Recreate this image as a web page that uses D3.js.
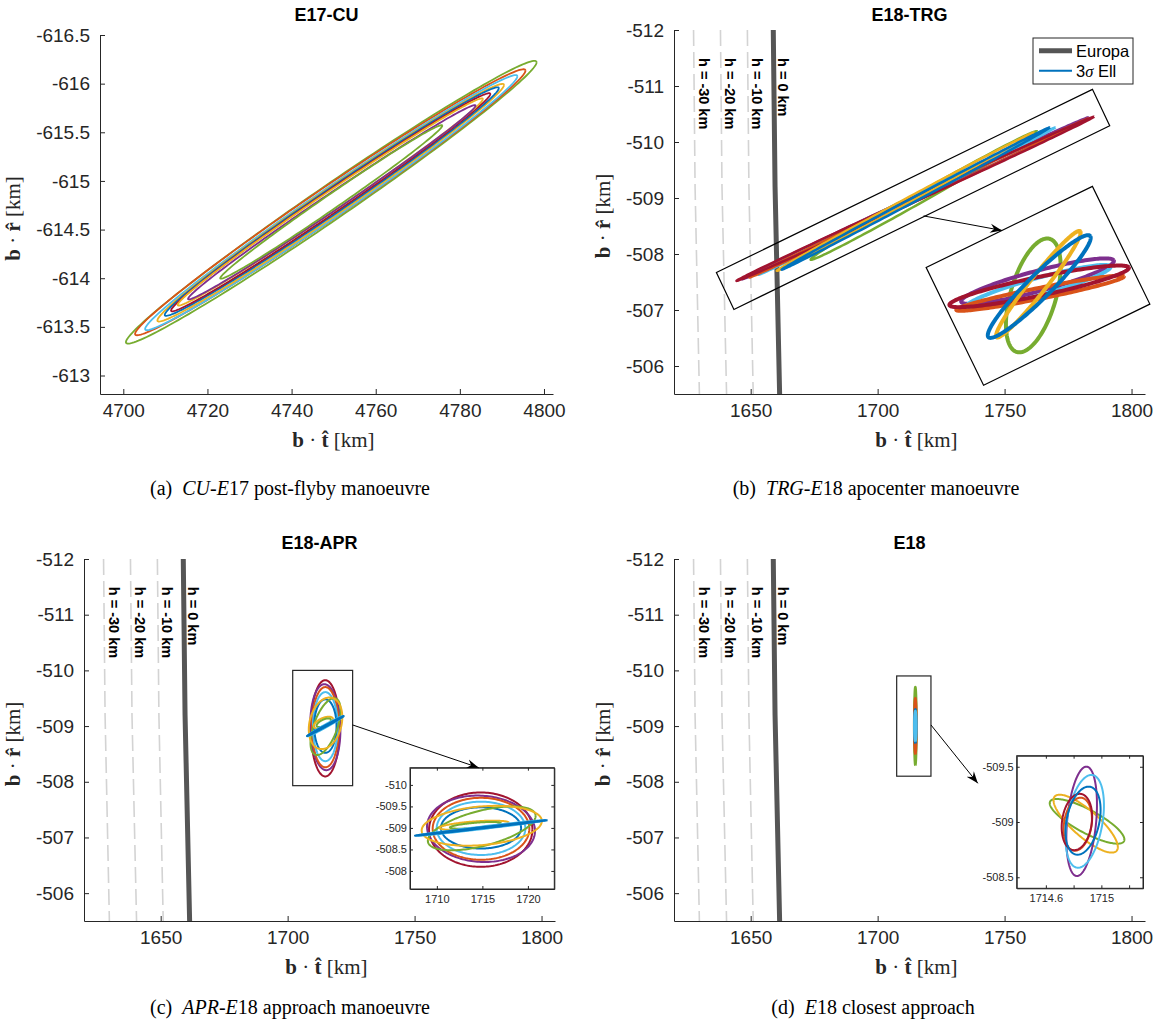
<!DOCTYPE html>
<html>
<head>
<meta charset="utf-8">
<script src="https://cdn.jsdelivr.net/npm/d3@7"></script>
<style>
  body { margin: 0; background: #fff; }
  svg { display: block; }
</style>
</head>
<body>
<script>
var W = 1158, H = 1027;
var SANS = "'Liberation Sans', Arial, Helvetica, sans-serif",
    SERIF = "'Liberation Serif', 'Times New Roman', serif",
    AX = "#262626";

var colors = {
  blue: "#0072BD", orange: "#D95319", yellow: "#EDB120", purple: "#7E2F8E",
  green: "#77AC30", lightblue: "#4DBEEE", darkred: "#A2142F"
};

// every ellipse row: centre t, centre r, half axis 1 (dt, dr), half axis 2 (dt, dr)  [km]

// ---- E17-CU
var cuTTicks = [4700, 4720, 4740, 4760, 4780, 4800];
var cuRTicks = [-616.5, -616, -615.5, -615, -614.5, -614, -613.5, -613];
var cuEll = [
  [4749.43, -614.781, 48.81, -1.438, 0, 0.21],
  [4749.20, -614.781, 46.40, -1.353, 0, 0.195],
  [4749.43, -614.777, 44.24, -1.298, 0, 0.18],
  [4749.30, -614.776, 41.20, -1.210, 0, 0.165],
  [4749.56, -614.788, 39.71, -1.165, 0, 0.15],
  [4749.30, -614.781, 37.95, -1.113, 0, 0.135],
  [4749.21, -614.784, 36.28, -1.058, 0, 0.12],
  [4749.56, -614.781, 34.17, -0.993, 0, 0.105],
  [4749.43, -614.784, 26.39, -0.784, 0, 0.09]
];
var cuCol = ["green", "orange", "lightblue", "yellow", "blue", "darkred", "yellow", "purple", "green"];

// ---- E18 b-plane (shared by TRG, APR, CA)
var e18TTicks = [1650, 1700, 1750, 1800];
var e18RTicks = [-512, -511, -510, -509, -508, -507, -506];
var hLevels = [-30, -20, -10, 0];
var hCurveR = [-512, -509.2, -505.5];
var hCurveT = [
  [1627.5, 1628.1, 1629.8],
  [1638.1, 1638.7, 1640.5],
  [1648.7, 1649.3, 1651.0],
  [1658.9, 1659.6, 1661.4]
];
var hLabelT = [1629.6, 1639.9, 1650.5, 1660.9];
var hLabelR = -511.5;

// ---- E18-TRG
var trgEll = [
  [1718.20, -509.045, 44.60, -1.145, 0, 0.10],
  [1714.80, -508.995, 68.20, -1.445, 0, 0.05],
  [1711.55, -508.945, 58.45, -1.315, 0, 0.04],
  [1716.25, -509.000, 66.75, -1.420, 0, 0.035],
  [1714.80, -508.985, 70.40, -1.465, 0, 0.05],
  [1710.95, -508.935, 50.65, -1.235, 0, 0.05],
  [1715.00, -508.990, 52.80, -1.270, 0, 0.045]
];
var trgCol = ["green", "purple", "lightblue", "orange", "darkred", "yellow", "blue"];
var trgBox = [[1636.5, -507.67], [1784.6, -510.94], [1791.4, -510.29], [1643.4, -507.01]];
var trgArrowFrom = [1718.1, -508.68];
// magnified view, along-band u / cross-band v (scaled units)
var trgZoomEll = [
  [-0.21, -0.165, 1.07, 0.855, 0, 0.78],
  [0.04, 0.11, 1.93, -0.37, 0, 0.26],
  [0.00, -0.025, 1.83, -0.335, 0, 0.22],
  [-0.035, -0.19, 2.055, -0.54, 0, 0.14],
  [0.02, -0.025, 2.21, -0.558, 0, 0.24],
  [0.025, 0.033, 1.515, 0.723, 0, 0.23],
  [0.02, -0.03, 1.69, 0.567, 0, 0.31]
];
var trgZoomCol = ["green", "purple", "lightblue", "orange", "darkred", "yellow", "blue"];

// ---- E18-APR
var aprEll = [
  [1714.82, -508.96, 5.68, 0, 0, 0.864],
  [1714.85, -508.98, 5.93, 0.05, 0, 0.77],
  [1714.85, -508.98, 5.31, 0, 0, 0.72],
  [1714.85, -508.99, 4.87, 0, 0, 0.62],
  [1714.85, -509.00, 4.40, 0, 0, 0.48],
  [1714.93, -508.99, 5.92, -0.29, 0, 0.42],
  [1714.93, -509.05, 6.60, -0.11, 0, 0.45],
  [1714.10, -509.06, 3.80, -0.06, 0, 0.09],
  [1714.23, -509.06, 2.80, -0.05, 0, 0.06],
  [1714.87, -509.00, 7.10, -0.18, 0, 0.03],
  [1714.87, -509.00, 7.27, -0.18, 0, 0.015]
];
var aprCol = ["darkred", "purple", "orange", "lightblue", "blue", "green", "yellow", "yellow", "green", "lightblue", "blue"];
var aprBox = [1702, 1725.6, -510, -507.93];
var aprInsetTTicks = [1710, 1715, 1720];
var aprInsetRTicks = [-510, -509.5, -509, -508.5, -508];

// ---- E18 closest approach
var caEll = [
  [1714.85, -509.0, 0, 0.70, 0.45, 0],
  [1714.85, -509.0, 0, 0.50, 0.45, 0],
  [1714.85, -509.0, 0, 0.30, 0.35, 0],
  [1714.85, -509.0, 0, 0.27, 0.40, 0]
];
var caCol = ["green", "orange", "blue", "lightblue"];
var caZoomEll = [
  [1714.897, -509.006, -0.266, -0.180, 0.040, -0.092],
  [1714.887, -508.985, -0.223, -0.246, 0.063, -0.090],
  [1714.858, -509.006, -0.034, 0.495, 0.105, 0],
  [1714.880, -509.006, -0.048, 0.420, 0.130, 0],
  [1714.830, -508.980, -0.020, 0.240, 0.100, 0],
  [1714.824, -509.000, -0.020, 0.255, 0.108, 0],
  [1714.868, -509.012, -0.040, 0.308, 0.120, 0]
];
var caZoomCol = ["green", "yellow", "purple", "lightblue", "orange", "darkred", "blue"];
var caBox = [1707.5, 1721, -509.9, -508.1];
var caInsetTTicks = [1714.6, 1714.8, 1715, 1715.2];
var caInsetTLabels = ["1714.6", "", "1715", ""];
var caInsetRTicks = [-509.5, -509, -508.5];

var captions = [
  [["(a)\u00A0\u00A0", 0], ["CU", 1], ["-", 0], ["E", 1], ["17 post-flyby manoeuvre", 0]],
  [["(b)\u00A0\u00A0", 0], ["TRG", 1], ["-", 0], ["E", 1], ["18 apocenter manoeuvre", 0]],
  [["(c)\u00A0\u00A0", 0], ["APR", 1], ["-", 0], ["E", 1], ["18 approach manoeuvre", 0]],
  [["(d)\u00A0\u00A0", 0], ["E", 1], ["18 closest approach", 0]]
];

// ---------------------------------------------------------------
var svg = d3.select("body").append("svg").attr("width", W).attr("height", H);
svg.append("rect").attr("width", W).attr("height", H).attr("fill", "#fff");
svg.append("defs").append("marker")
    .attr("id", "head").attr("viewBox", "0 0 12 10").attr("refX", 12).attr("refY", 5)
    .attr("markerWidth", 12).attr("markerHeight", 10).attr("markerUnits", "userSpaceOnUse")
    .attr("orient", "auto")
  .append("path").attr("d", "M0,0.5 L12,5 L0,9.5 L4,5 Z").attr("fill", "#000");

function fmt(d) { return String(+d.toFixed(3)); }

function ellipsePts(e) {
  return d3.range(0, 361, 2).map(function(k) {
    var s = k * Math.PI / 180;
    return [e[0] + Math.cos(s) * e[2] + Math.sin(s) * e[4],
            e[1] + Math.cos(s) * e[3] + Math.sin(s) * e[5]];
  });
}

function drawEllipses(g, x, y, list, cols, lw) {
  var line = d3.line().x(function(d) { return x(d[0]); }).y(function(d) { return y(d[1]); });
  g.selectAll(null).data(list).enter().append("path")
    .attr("d", function(d) { return line(ellipsePts(d)); })
    .attr("fill", "none")
    .attr("stroke", function(d, i) { return colors[cols[i]]; })
    .attr("stroke-width", lw)
    .attr("stroke-linejoin", "round");
}

function bDot(sel, hat) {
  sel.append("tspan").attr("font-weight", "bold").text("b");
  sel.append("tspan").text(" \u00B7 ");
  sel.append("tspan").attr("font-weight", "bold").text(hat + "\u0302");
  sel.append("tspan").text(" [km]");
}

function makePanel(o) {
  var x = d3.scaleLinear().domain(o.tDom).range([o.left, o.right]);
  var y = d3.scaleLinear().domain(o.rDom).range([o.top, o.bottom]);
  var g = svg.append("g");
  g.append("g").attr("class", "axis").attr("transform", "translate(0," + o.bottom + ")")
    .call(d3.axisBottom(x).tickValues(o.tTicks).tickFormat(fmt)
      .tickSize(-5).tickSizeOuter(0).tickPadding(10));
  g.append("g").attr("class", "axis").attr("transform", "translate(" + o.left + ",0)")
    .call(d3.axisLeft(y).tickValues(o.rTicks).tickFormat(fmt)
      .tickSize(-5).tickSizeOuter(0).tickPadding(10));
  g.selectAll(".axis text").attr("font-family", SANS).attr("font-size", 19).attr("fill", AX);
  g.selectAll(".axis path, .axis line").attr("stroke", AX);

  g.append("text").attr("x", (o.left + o.right) / 2).attr("y", o.titleY)
    .attr("text-anchor", "middle").attr("font-family", SANS).attr("font-weight", "bold")
    .attr("font-size", 18).text(o.title);
  bDot(g.append("text").attr("x", (o.left + o.right) / 2 + 7).attr("y", o.bottom + 53)
    .attr("text-anchor", "middle").attr("font-family", SERIF).attr("font-size", 21)
    .attr("fill", AX), "t");
  bDot(g.append("text")
    .attr("transform", "translate(" + (o.left - o.ylabOff) + "," + ((o.top + o.bottom) / 2 + 4) + ") rotate(-90)")
    .attr("text-anchor", "middle").attr("font-family", SERIF).attr("font-size", 21)
    .attr("fill", AX), "r");

  var cap = g.append("text").attr("x", o.capX).attr("y", o.capY)
    .attr("text-anchor", "middle").attr("font-family", SERIF).attr("font-size", 20);
  o.caption.forEach(function(p) {
    cap.append("tspan").attr("font-style", p[1] ? "italic" : "normal").text(p[0]);
  });
  return { x: x, y: y, g: g };
}

function drawSurface(p) {
  var line = d3.line().x(function(d) { return p.x(d[0]); }).y(function(d) { return p.y(d[1]); });
  hLevels.forEach(function(h, i) {
    var pts = hCurveR.map(function(r, j) { return [hCurveT[i][j], r]; });
    p.g.append("path").attr("d", line(pts)).attr("fill", "none")
      .attr("stroke", h === 0 ? "#555555" : "#d3d3d3")
      .attr("stroke-width", h === 0 ? 5 : 1.6)
      .attr("stroke-dasharray", h === 0 ? null : "16,6");
  });
  hLevels.forEach(function(h, i) {
    p.g.append("text")
      .attr("transform", "translate(" + p.x(hLabelT[i]) + "," + p.y(hLabelR) + ") rotate(90)")
      .attr("font-family", SANS).attr("font-weight", "bold").attr("font-size", 14.5)
      .text("h = " + h + " km");
  });
}

function makeInset(o) {
  var x = d3.scaleLinear().domain(o.tDom).range([o.left, o.right]);
  var y = d3.scaleLinear().domain(o.rDom).range([o.top, o.bottom]);
  var g = svg.append("g");
  g.append("rect").attr("x", o.left).attr("y", o.top)
    .attr("width", o.right - o.left).attr("height", o.bottom - o.top)
    .attr("fill", "#fff");
  var lab = o.tLabels ? function(d, i) { return o.tLabels[i]; } : fmt;
  g.append("g").attr("class", "ax").attr("transform", "translate(0," + o.bottom + ")")
    .call(d3.axisBottom(x).tickValues(o.tTicks).tickFormat(lab).tickSize(-3).tickSizeOuter(0).tickPadding(6));
  g.append("g").attr("class", "ax").attr("transform", "translate(0," + o.top + ")")
    .call(d3.axisTop(x).tickValues(o.tTicks).tickFormat("").tickSize(-3).tickSizeOuter(0));
  g.append("g").attr("class", "ax").attr("transform", "translate(" + o.left + ",0)")
    .call(d3.axisLeft(y).tickValues(o.rTicks).tickFormat(fmt).tickSize(-3).tickSizeOuter(0).tickPadding(3));
  g.append("g").attr("class", "ax").attr("transform", "translate(" + o.right + ",0)")
    .call(d3.axisRight(y).tickValues(o.rTicks).tickFormat("").tickSize(-3).tickSizeOuter(0));
  g.selectAll(".ax text").attr("font-family", SANS).attr("font-size", 11).attr("fill", AX);
  g.selectAll(".ax path, .ax line").attr("stroke", AX);
  return { x: x, y: y, g: g };
}

function arrow(p0, p1) {
  svg.append("line").attr("x1", p0[0]).attr("y1", p0[1]).attr("x2", p1[0]).attr("y2", p1[1])
    .attr("stroke", "#000").attr("stroke-width", 1).attr("marker-end", "url(#head)");
}

function boxRect(p, b) {
  p.g.append("rect").attr("x", p.x(b[0])).attr("y", p.y(b[2]))
    .attr("width", p.x(b[1]) - p.x(b[0])).attr("height", p.y(b[3]) - p.y(b[2]))
    .attr("fill", "none").attr("stroke", AX).attr("stroke-width", 1.2);
}

// ---- (a) E17-CU
var pa = makePanel({
  left: 100, right: 553, top: 35, bottom: 394,
  tDom: [4694.46, 4802.14], rDom: [-616.5, -612.81],
  tTicks: cuTTicks, rTicks: cuRTicks, title: "E17-CU", titleY: 21, ylabOff: 80,
  caption: captions[0], capX: 290, capY: 495
});
drawEllipses(pa.g, pa.x, pa.y, cuEll, cuCol, 1.8);

// ---- (b) E18-TRG
var pb = makePanel({
  left: 674, right: 1145, top: 30, bottom: 394,
  tDom: [1619.8, 1805.3], rDom: [-512, -505.5],
  tTicks: e18TTicks, rTicks: e18RTicks, title: "E18-TRG", titleY: 21, ylabOff: 64,
  caption: captions[1], capX: 876, capY: 495
});
drawSurface(pb);
drawEllipses(pb.g, pb.x, pb.y, trgEll, trgCol, 2.5);
pb.g.append("path")
  .attr("d", d3.line().x(function(d) { return pb.x(d[0]); }).y(function(d) { return pb.y(d[1]); })
    .curve(d3.curveLinearClosed)(trgBox))
  .attr("fill", "none").attr("stroke", "#000").attr("stroke-width", 1.2);

// magnified, rotated view of the TRG band
var insetB = { cx: 1038, cy: 285.8, angle: -26, w: 185, h: 131 };
var gb = svg.append("g").attr("transform",
  "translate(" + insetB.cx + "," + insetB.cy + ") rotate(" + insetB.angle + ")");
var ux = d3.scaleLinear().domain([-2.3, 2.3]).range([-insetB.w / 2, insetB.w / 2]);
var vy = d3.scaleLinear().domain([-1.64, 1.64]).range([insetB.h / 2, -insetB.h / 2]);
gb.append("rect").attr("x", -insetB.w / 2).attr("y", -insetB.h / 2)
  .attr("width", insetB.w).attr("height", insetB.h)
  .attr("fill", "#fff").attr("stroke", "#000").attr("stroke-width", 1.2);
drawEllipses(gb, ux, vy, trgZoomEll, trgZoomCol, 4);
function insetBToScreen(lx, ly) {
  var a = insetB.angle * Math.PI / 180;
  return [insetB.cx + lx * Math.cos(a) - ly * Math.sin(a),
          insetB.cy + lx * Math.sin(a) + ly * Math.cos(a)];
}
arrow([pb.x(trgArrowFrom[0]), pb.y(trgArrowFrom[1])], insetBToScreen(ux(-0.2), vy(1.64)));

// legend
var lg = pb.g.append("g");
lg.append("rect").attr("x", 1033).attr("y", 38).attr("width", 100).attr("height", 46)
  .attr("fill", "#fff").attr("stroke", AX).attr("stroke-width", 1);
lg.append("line").attr("x1", 1039).attr("x2", 1072).attr("y1", 50.7).attr("y2", 50.7)
  .attr("stroke", "#555555").attr("stroke-width", 5);
lg.append("line").attr("x1", 1039).attr("x2", 1072).attr("y1", 70.7).attr("y2", 70.7)
  .attr("stroke", colors.blue).attr("stroke-width", 2);
lg.append("text").attr("x", 1076).attr("y", 56.5).attr("font-family", SANS).attr("font-size", 16.5)
  .attr("fill", "#000").text("Europa");
var l2 = lg.append("text").attr("x", 1076).attr("y", 76.5).attr("font-family", SANS)
  .attr("font-size", 16.5).attr("fill", "#000");
l2.append("tspan").text("3");
l2.append("tspan").attr("font-family", SERIF).attr("font-style", "italic").text("\u03C3");
l2.append("tspan").text(" Ell");

// ---- (c) E18-APR
var pc = makePanel({
  left: 84, right: 555, top: 559, bottom: 921,
  tDom: [1619.8, 1805.3], rDom: [-512, -505.5],
  tTicks: e18TTicks, rTicks: e18RTicks, title: "E18-APR", titleY: 549, ylabOff: 64,
  caption: captions[2], capX: 290, capY: 1014
});
drawSurface(pc);
drawEllipses(pc.g, pc.x, pc.y, aprEll, aprCol, 2);
boxRect(pc, aprBox);
var ic = makeInset({
  left: 410, right: 554.3, top: 767.7, bottom: 889,
  tDom: [1707.05, 1722.9], rDom: [-510.4, -507.58],
  tTicks: aprInsetTTicks, rTicks: aprInsetRTicks
});
drawEllipses(ic.g, ic.x, ic.y, aprEll, aprCol, 2);
ic.g.append("rect").attr("x", 410).attr("y", 767.7).attr("width", 144.3).attr("height", 121.3)
  .attr("fill", "none").attr("stroke", AX).attr("stroke-width", 1);
arrow([pc.x(aprBox[1]), pc.y(-509.02)], [ic.x(1714.6), ic.y(-510.4)]);

// ---- (d) E18
var pd = makePanel({
  left: 674, right: 1145, top: 559, bottom: 921,
  tDom: [1619.8, 1805.3], rDom: [-512, -505.5],
  tTicks: e18TTicks, rTicks: e18RTicks, title: "E18", titleY: 549, ylabOff: 64,
  caption: captions[3], capX: 873, capY: 1014
});
drawSurface(pd);
drawEllipses(pd.g, pd.x, pd.y, caEll, caCol, 2.5);
boxRect(pd, caBox);
var id = makeInset({
  left: 1016.7, right: 1143, top: 755.7, bottom: 888.3,
  tDom: [1714.39, 1715.30], rDom: [-509.6, -508.4],
  tTicks: caInsetTTicks, tLabels: caInsetTLabels, rTicks: caInsetRTicks
});
drawEllipses(id.g, id.x, id.y, caZoomEll, caZoomCol, 2);
id.g.append("rect").attr("x", 1016.7).attr("y", 755.7).attr("width", 126.3).attr("height", 132.6)
  .attr("fill", "none").attr("stroke", AX).attr("stroke-width", 1);
arrow([pd.x(caBox[1]), pd.y(-509.02)], [id.x(1714.11), id.y(-509.35)]);
</script>
</body>
</html>
